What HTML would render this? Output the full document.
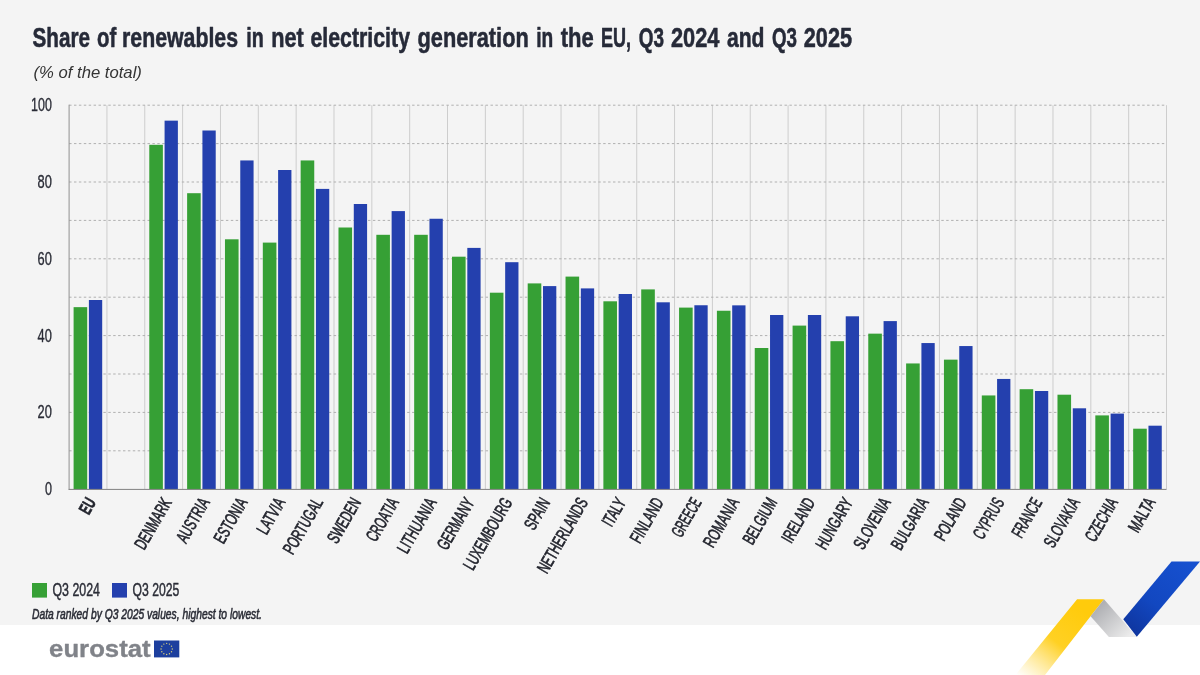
<!DOCTYPE html><html><head><meta charset="utf-8"><title>Share of renewables</title>
<style>html,body{margin:0;padding:0;background:#fff}body{width:1200px;height:675px;overflow:hidden;font-family:"Liberation Sans",sans-serif}svg{display:block;will-change:transform}text{font-family:"Liberation Sans",sans-serif;vector-effect:non-scaling-stroke;stroke-linejoin:round}</style></head><body>
<svg width="1200" height="675" viewBox="0 0 1200 675">
<defs>
<linearGradient id="gy" gradientUnits="userSpaceOnUse" x1="1085" y1="612" x2="1028" y2="684"><stop offset="0" stop-color="#ffcb0c"/><stop offset="0.45" stop-color="#ffcf1c" stop-opacity="0.97"/><stop offset="1" stop-color="#ffd84a" stop-opacity="0"/></linearGradient>
<linearGradient id="gg" gradientUnits="userSpaceOnUse" x1="1093" y1="606" x2="1125" y2="640"><stop offset="0" stop-color="#a9aaae"/><stop offset="1" stop-color="#ececec"/></linearGradient>
<linearGradient id="gb" gradientUnits="userSpaceOnUse" x1="1185" y1="561" x2="1130" y2="630"><stop offset="0" stop-color="#1650cf"/><stop offset="0.6" stop-color="#1247c0"/><stop offset="1" stop-color="#0f36a0"/></linearGradient>
</defs>
<rect x="0" y="0" width="1200" height="625" fill="#f4f4f4"/>
<rect x="0" y="625" width="1200" height="50" fill="#ffffff"/>
<text transform="translate(32.50 47.00) scale(0.7610 1)" font-size="27.2" fill="#262a38" font-weight="700" stroke="#262a38" stroke-width="0.5">Share</text>
<text transform="translate(97.00 47.00) scale(0.7498 1)" font-size="27.2" fill="#262a38" font-weight="700" stroke="#262a38" stroke-width="0.5">of</text>
<text transform="translate(122.00 47.00) scale(0.7832 1)" font-size="27.2" fill="#262a38" font-weight="700" stroke="#262a38" stroke-width="0.5">renewables</text>
<text transform="translate(246.25 47.00) scale(0.7240 1)" font-size="27.2" fill="#262a38" font-weight="700" stroke="#262a38" stroke-width="0.5">in</text>
<text transform="translate(271.25 47.00) scale(0.7969 1)" font-size="27.2" fill="#262a38" font-weight="700" stroke="#262a38" stroke-width="0.5">net</text>
<text transform="translate(310.50 47.00) scale(0.7838 1)" font-size="27.2" fill="#262a38" font-weight="700" stroke="#262a38" stroke-width="0.5">electricity</text>
<text transform="translate(417.50 47.00) scale(0.8004 1)" font-size="27.2" fill="#262a38" font-weight="700" stroke="#262a38" stroke-width="0.5">generation</text>
<text transform="translate(536.25 47.00) scale(0.7033 1)" font-size="27.2" fill="#262a38" font-weight="700" stroke="#262a38" stroke-width="0.5">in</text>
<text transform="translate(560.75 47.00) scale(0.8092 1)" font-size="27.2" fill="#262a38" font-weight="700" stroke="#262a38" stroke-width="0.5">the</text>
<text transform="translate(601.00 47.00) scale(0.6618 1)" font-size="27.2" fill="#262a38" font-weight="700" stroke="#262a38" stroke-width="0.5">EU,</text>
<text transform="translate(638.75 47.00) scale(0.6960 1)" font-size="27.2" fill="#262a38" font-weight="700" stroke="#262a38" stroke-width="0.5">Q3</text>
<text transform="translate(671.00 47.00) scale(0.8019 1)" font-size="27.2" fill="#262a38" font-weight="700" stroke="#262a38" stroke-width="0.5">2024</text>
<text transform="translate(727.00 47.00) scale(0.7757 1)" font-size="27.2" fill="#262a38" font-weight="700" stroke="#262a38" stroke-width="0.5">and</text>
<text transform="translate(772.00 47.00) scale(0.6891 1)" font-size="27.2" fill="#262a38" font-weight="700" stroke="#262a38" stroke-width="0.5">Q3</text>
<text transform="translate(803.75 47.00) scale(0.7977 1)" font-size="27.2" fill="#262a38" font-weight="700" stroke="#262a38" stroke-width="0.5">2025</text>
<text transform="translate(33.50 77.60) scale(1.0428 1)" font-size="16" fill="#333" font-style="italic">(% of the total)</text>
<line x1="106.94" y1="105.2" x2="106.94" y2="489.2" stroke="#cdcdcd" stroke-width="1"/>
<line x1="144.78" y1="105.2" x2="144.78" y2="489.2" stroke="#cdcdcd" stroke-width="1"/>
<line x1="182.62" y1="105.2" x2="182.62" y2="489.2" stroke="#cdcdcd" stroke-width="1"/>
<line x1="220.47" y1="105.2" x2="220.47" y2="489.2" stroke="#cdcdcd" stroke-width="1"/>
<line x1="258.31" y1="105.2" x2="258.31" y2="489.2" stroke="#cdcdcd" stroke-width="1"/>
<line x1="296.15" y1="105.2" x2="296.15" y2="489.2" stroke="#cdcdcd" stroke-width="1"/>
<line x1="333.99" y1="105.2" x2="333.99" y2="489.2" stroke="#cdcdcd" stroke-width="1"/>
<line x1="371.83" y1="105.2" x2="371.83" y2="489.2" stroke="#cdcdcd" stroke-width="1"/>
<line x1="409.67" y1="105.2" x2="409.67" y2="489.2" stroke="#cdcdcd" stroke-width="1"/>
<line x1="447.51" y1="105.2" x2="447.51" y2="489.2" stroke="#cdcdcd" stroke-width="1"/>
<line x1="485.36" y1="105.2" x2="485.36" y2="489.2" stroke="#cdcdcd" stroke-width="1"/>
<line x1="523.20" y1="105.2" x2="523.20" y2="489.2" stroke="#cdcdcd" stroke-width="1"/>
<line x1="561.04" y1="105.2" x2="561.04" y2="489.2" stroke="#cdcdcd" stroke-width="1"/>
<line x1="598.88" y1="105.2" x2="598.88" y2="489.2" stroke="#cdcdcd" stroke-width="1"/>
<line x1="636.72" y1="105.2" x2="636.72" y2="489.2" stroke="#cdcdcd" stroke-width="1"/>
<line x1="674.56" y1="105.2" x2="674.56" y2="489.2" stroke="#cdcdcd" stroke-width="1"/>
<line x1="712.40" y1="105.2" x2="712.40" y2="489.2" stroke="#cdcdcd" stroke-width="1"/>
<line x1="750.24" y1="105.2" x2="750.24" y2="489.2" stroke="#cdcdcd" stroke-width="1"/>
<line x1="788.09" y1="105.2" x2="788.09" y2="489.2" stroke="#cdcdcd" stroke-width="1"/>
<line x1="825.93" y1="105.2" x2="825.93" y2="489.2" stroke="#cdcdcd" stroke-width="1"/>
<line x1="863.77" y1="105.2" x2="863.77" y2="489.2" stroke="#cdcdcd" stroke-width="1"/>
<line x1="901.61" y1="105.2" x2="901.61" y2="489.2" stroke="#cdcdcd" stroke-width="1"/>
<line x1="939.45" y1="105.2" x2="939.45" y2="489.2" stroke="#cdcdcd" stroke-width="1"/>
<line x1="977.29" y1="105.2" x2="977.29" y2="489.2" stroke="#cdcdcd" stroke-width="1"/>
<line x1="1015.13" y1="105.2" x2="1015.13" y2="489.2" stroke="#cdcdcd" stroke-width="1"/>
<line x1="1052.98" y1="105.2" x2="1052.98" y2="489.2" stroke="#cdcdcd" stroke-width="1"/>
<line x1="1090.82" y1="105.2" x2="1090.82" y2="489.2" stroke="#cdcdcd" stroke-width="1"/>
<line x1="1128.66" y1="105.2" x2="1128.66" y2="489.2" stroke="#cdcdcd" stroke-width="1"/>
<line x1="1166.50" y1="105.2" x2="1166.50" y2="489.2" stroke="#cdcdcd" stroke-width="1"/>
<line x1="69.1" y1="450.80" x2="1166.5" y2="450.80" stroke="#b0b0b0" stroke-width="1" stroke-dasharray="2.45 2.45"/>
<line x1="69.1" y1="412.40" x2="1166.5" y2="412.40" stroke="#b0b0b0" stroke-width="1" stroke-dasharray="2.45 2.45"/>
<line x1="69.1" y1="374.00" x2="1166.5" y2="374.00" stroke="#b0b0b0" stroke-width="1" stroke-dasharray="2.45 2.45"/>
<line x1="69.1" y1="335.60" x2="1166.5" y2="335.60" stroke="#b0b0b0" stroke-width="1" stroke-dasharray="2.45 2.45"/>
<line x1="69.1" y1="297.20" x2="1166.5" y2="297.20" stroke="#b0b0b0" stroke-width="1" stroke-dasharray="2.45 2.45"/>
<line x1="69.1" y1="258.80" x2="1166.5" y2="258.80" stroke="#b0b0b0" stroke-width="1" stroke-dasharray="2.45 2.45"/>
<line x1="69.1" y1="220.40" x2="1166.5" y2="220.40" stroke="#b0b0b0" stroke-width="1" stroke-dasharray="2.45 2.45"/>
<line x1="69.1" y1="182.00" x2="1166.5" y2="182.00" stroke="#b0b0b0" stroke-width="1" stroke-dasharray="2.45 2.45"/>
<line x1="69.1" y1="143.60" x2="1166.5" y2="143.60" stroke="#b0b0b0" stroke-width="1" stroke-dasharray="2.45 2.45"/>
<line x1="69.1" y1="105.20" x2="1166.5" y2="105.20" stroke="#b0b0b0" stroke-width="1" stroke-dasharray="2.45 2.45"/>
<rect x="73.60" y="307.15" width="13.6" height="182.05" fill="#36a035"/>
<rect x="88.90" y="300.00" width="13.3" height="189.20" fill="#2440ae"/>
<rect x="149.28" y="144.80" width="13.6" height="344.40" fill="#36a035"/>
<rect x="164.58" y="120.65" width="13.3" height="368.55" fill="#2440ae"/>
<rect x="187.12" y="193.20" width="13.6" height="296.00" fill="#36a035"/>
<rect x="202.42" y="130.50" width="13.3" height="358.70" fill="#2440ae"/>
<rect x="224.97" y="239.30" width="13.6" height="249.90" fill="#36a035"/>
<rect x="240.27" y="160.45" width="13.3" height="328.75" fill="#2440ae"/>
<rect x="262.81" y="242.60" width="13.6" height="246.60" fill="#36a035"/>
<rect x="278.11" y="170.00" width="13.3" height="319.20" fill="#2440ae"/>
<rect x="300.65" y="160.45" width="13.6" height="328.75" fill="#36a035"/>
<rect x="315.95" y="188.90" width="13.3" height="300.30" fill="#2440ae"/>
<rect x="338.49" y="227.50" width="13.6" height="261.70" fill="#36a035"/>
<rect x="353.79" y="204.00" width="13.3" height="285.20" fill="#2440ae"/>
<rect x="376.33" y="234.80" width="13.6" height="254.40" fill="#36a035"/>
<rect x="391.63" y="211.10" width="13.3" height="278.10" fill="#2440ae"/>
<rect x="414.17" y="234.80" width="13.6" height="254.40" fill="#36a035"/>
<rect x="429.47" y="218.75" width="13.3" height="270.45" fill="#2440ae"/>
<rect x="452.01" y="256.70" width="13.6" height="232.50" fill="#36a035"/>
<rect x="467.31" y="247.90" width="13.3" height="241.30" fill="#2440ae"/>
<rect x="489.86" y="292.70" width="13.6" height="196.50" fill="#36a035"/>
<rect x="505.16" y="262.20" width="13.3" height="227.00" fill="#2440ae"/>
<rect x="527.70" y="283.40" width="13.6" height="205.80" fill="#36a035"/>
<rect x="543.00" y="286.10" width="13.3" height="203.10" fill="#2440ae"/>
<rect x="565.54" y="276.60" width="13.6" height="212.60" fill="#36a035"/>
<rect x="580.84" y="288.40" width="13.3" height="200.80" fill="#2440ae"/>
<rect x="603.38" y="301.30" width="13.6" height="187.90" fill="#36a035"/>
<rect x="618.68" y="294.00" width="13.3" height="195.20" fill="#2440ae"/>
<rect x="641.22" y="289.40" width="13.6" height="199.80" fill="#36a035"/>
<rect x="656.52" y="302.30" width="13.3" height="186.90" fill="#2440ae"/>
<rect x="679.06" y="307.60" width="13.6" height="181.60" fill="#36a035"/>
<rect x="694.36" y="305.25" width="13.3" height="183.95" fill="#2440ae"/>
<rect x="716.90" y="310.75" width="13.6" height="178.45" fill="#36a035"/>
<rect x="732.20" y="305.35" width="13.3" height="183.85" fill="#2440ae"/>
<rect x="754.74" y="348.00" width="13.6" height="141.20" fill="#36a035"/>
<rect x="770.04" y="315.00" width="13.3" height="174.20" fill="#2440ae"/>
<rect x="792.59" y="325.60" width="13.6" height="163.60" fill="#36a035"/>
<rect x="807.89" y="315.00" width="13.3" height="174.20" fill="#2440ae"/>
<rect x="830.43" y="341.20" width="13.6" height="148.00" fill="#36a035"/>
<rect x="845.73" y="316.30" width="13.3" height="172.90" fill="#2440ae"/>
<rect x="868.27" y="333.65" width="13.6" height="155.55" fill="#36a035"/>
<rect x="883.57" y="321.10" width="13.3" height="168.10" fill="#2440ae"/>
<rect x="906.11" y="363.45" width="13.6" height="125.75" fill="#36a035"/>
<rect x="921.41" y="343.05" width="13.3" height="146.15" fill="#2440ae"/>
<rect x="943.95" y="359.65" width="13.6" height="129.55" fill="#36a035"/>
<rect x="959.25" y="346.05" width="13.3" height="143.15" fill="#2440ae"/>
<rect x="981.79" y="395.45" width="13.6" height="93.75" fill="#36a035"/>
<rect x="997.09" y="378.95" width="13.3" height="110.25" fill="#2440ae"/>
<rect x="1019.63" y="389.20" width="13.6" height="100.00" fill="#36a035"/>
<rect x="1034.93" y="391.00" width="13.3" height="98.20" fill="#2440ae"/>
<rect x="1057.48" y="394.70" width="13.6" height="94.50" fill="#36a035"/>
<rect x="1072.78" y="408.30" width="13.3" height="80.90" fill="#2440ae"/>
<rect x="1095.32" y="415.40" width="13.6" height="73.80" fill="#36a035"/>
<rect x="1110.62" y="413.60" width="13.3" height="75.60" fill="#2440ae"/>
<rect x="1133.16" y="428.70" width="13.6" height="60.50" fill="#36a035"/>
<rect x="1148.46" y="425.70" width="13.3" height="63.50" fill="#2440ae"/>
<line x1="69.1" y1="104.7" x2="69.1" y2="489.7" stroke="#909090" stroke-width="1"/>
<line x1="68.6" y1="489.4" x2="1166.5" y2="489.4" stroke="#808080" stroke-width="1"/>
<text transform="translate(44.90 495.15) scale(0.6914 1)" font-size="18.2" fill="#2a2c36" stroke="#2a2c36" stroke-width="0.3">0</text>
<text transform="translate(37.60 418.35) scale(0.7067 1)" font-size="18.2" fill="#2a2c36" stroke="#2a2c36" stroke-width="0.3">20</text>
<text transform="translate(37.60 341.55) scale(0.7067 1)" font-size="18.2" fill="#2a2c36" stroke="#2a2c36" stroke-width="0.3">40</text>
<text transform="translate(37.60 264.75) scale(0.7067 1)" font-size="18.2" fill="#2a2c36" stroke="#2a2c36" stroke-width="0.3">60</text>
<text transform="translate(37.60 187.95) scale(0.7067 1)" font-size="18.2" fill="#2a2c36" stroke="#2a2c36" stroke-width="0.3">80</text>
<text transform="translate(31.10 111.15) scale(0.6851 1)" font-size="18.2" fill="#2a2c36" stroke="#2a2c36" stroke-width="0.3">100</text>
<text transform="translate(96.62 502.20) rotate(-60) scale(0.6258 1)" font-size="17.9" fill="#23252e" font-weight="700" stroke="#23252e" stroke-width="0.5" text-anchor="end">EU</text>
<text transform="translate(172.30 502.20) rotate(-60) scale(0.6259 1)" font-size="17.9" fill="#23252e" stroke="#23252e" stroke-width="0.55" text-anchor="end">DENMARK</text>
<text transform="translate(210.14 502.20) rotate(-60) scale(0.6260 1)" font-size="17.9" fill="#23252e" stroke="#23252e" stroke-width="0.55" text-anchor="end">AUSTRIA</text>
<text transform="translate(247.99 502.20) rotate(-60) scale(0.6286 1)" font-size="17.9" fill="#23252e" stroke="#23252e" stroke-width="0.55" text-anchor="end">ESTONIA</text>
<text transform="translate(285.83 502.20) rotate(-60) scale(0.6398 1)" font-size="17.9" fill="#23252e" stroke="#23252e" stroke-width="0.55" text-anchor="end">LATVIA</text>
<text transform="translate(323.67 502.20) rotate(-60) scale(0.6281 1)" font-size="17.9" fill="#23252e" stroke="#23252e" stroke-width="0.55" text-anchor="end">PORTUGAL</text>
<text transform="translate(361.51 502.20) rotate(-60) scale(0.6260 1)" font-size="17.9" fill="#23252e" stroke="#23252e" stroke-width="0.55" text-anchor="end">SWEDEN</text>
<text transform="translate(399.35 502.20) rotate(-60) scale(0.6008 1)" font-size="17.9" fill="#23252e" stroke="#23252e" stroke-width="0.55" text-anchor="end">CROATIA</text>
<text transform="translate(437.19 502.20) rotate(-60) scale(0.6484 1)" font-size="17.9" fill="#23252e" stroke="#23252e" stroke-width="0.55" text-anchor="end">LITHUANIA</text>
<text transform="translate(475.03 502.20) rotate(-60) scale(0.6259 1)" font-size="17.9" fill="#23252e" stroke="#23252e" stroke-width="0.55" text-anchor="end">GERMANY</text>
<text transform="translate(512.88 502.20) rotate(-60) scale(0.6260 1)" font-size="17.9" fill="#23252e" stroke="#23252e" stroke-width="0.55" text-anchor="end">LUXEMBOURG</text>
<text transform="translate(550.72 502.20) rotate(-60) scale(0.6417 1)" font-size="17.9" fill="#23252e" stroke="#23252e" stroke-width="0.55" text-anchor="end">SPAIN</text>
<text transform="translate(588.56 502.20) rotate(-60) scale(0.6259 1)" font-size="17.9" fill="#23252e" stroke="#23252e" stroke-width="0.55" text-anchor="end">NETHERLANDS</text>
<text transform="translate(626.40 502.20) rotate(-60) scale(0.6295 1)" font-size="17.9" fill="#23252e" stroke="#23252e" stroke-width="0.55" text-anchor="end">ITALY</text>
<text transform="translate(664.24 502.20) rotate(-60) scale(0.6390 1)" font-size="17.9" fill="#23252e" stroke="#23252e" stroke-width="0.55" text-anchor="end">FINLAND</text>
<text transform="translate(702.08 502.20) rotate(-60) scale(0.5532 1)" font-size="17.9" fill="#23252e" stroke="#23252e" stroke-width="0.55" text-anchor="end">GREECE</text>
<text transform="translate(739.92 502.20) rotate(-60) scale(0.6440 1)" font-size="17.9" fill="#23252e" stroke="#23252e" stroke-width="0.55" text-anchor="end">ROMANIA</text>
<text transform="translate(777.77 502.20) rotate(-60) scale(0.6260 1)" font-size="17.9" fill="#23252e" stroke="#23252e" stroke-width="0.55" text-anchor="end">BELGIUM</text>
<text transform="translate(815.61 502.20) rotate(-60) scale(0.6260 1)" font-size="17.9" fill="#23252e" stroke="#23252e" stroke-width="0.55" text-anchor="end">IRELAND</text>
<text transform="translate(853.45 502.20) rotate(-60) scale(0.6282 1)" font-size="17.9" fill="#23252e" stroke="#23252e" stroke-width="0.55" text-anchor="end">HUNGARY</text>
<text transform="translate(891.29 502.20) rotate(-60) scale(0.6259 1)" font-size="17.9" fill="#23252e" stroke="#23252e" stroke-width="0.55" text-anchor="end">SLOVENIA</text>
<text transform="translate(929.13 502.20) rotate(-60) scale(0.6259 1)" font-size="17.9" fill="#23252e" stroke="#23252e" stroke-width="0.55" text-anchor="end">BULGARIA</text>
<text transform="translate(966.97 502.20) rotate(-60) scale(0.6259 1)" font-size="17.9" fill="#23252e" stroke="#23252e" stroke-width="0.55" text-anchor="end">POLAND</text>
<text transform="translate(1004.81 502.20) rotate(-60) scale(0.5924 1)" font-size="17.9" fill="#23252e" stroke="#23252e" stroke-width="0.55" text-anchor="end">CYPRUS</text>
<text transform="translate(1042.66 502.20) rotate(-60) scale(0.5783 1)" font-size="17.9" fill="#23252e" stroke="#23252e" stroke-width="0.55" text-anchor="end">FRANCE</text>
<text transform="translate(1080.50 502.20) rotate(-60) scale(0.6183 1)" font-size="17.9" fill="#23252e" stroke="#23252e" stroke-width="0.55" text-anchor="end">SLOVAKIA</text>
<text transform="translate(1118.34 502.20) rotate(-60) scale(0.6005 1)" font-size="17.9" fill="#23252e" stroke="#23252e" stroke-width="0.55" text-anchor="end">CZECHIA</text>
<text transform="translate(1156.18 502.20) rotate(-60) scale(0.6376 1)" font-size="17.9" fill="#23252e" stroke="#23252e" stroke-width="0.55" text-anchor="end">MALTA</text>
<rect x="32" y="583" width="15" height="14.6" fill="#36a035"/>
<text transform="translate(52.50 595.80) scale(0.6878 1)" font-size="18" fill="#2a2c36" stroke="#2a2c36" stroke-width="0.4">Q3 2024</text>
<rect x="112" y="583" width="15" height="14.6" fill="#2440ae"/>
<text transform="translate(132.50 595.80) scale(0.6776 1)" font-size="18" fill="#2a2c36" stroke="#2a2c36" stroke-width="0.4">Q3 2025</text>
<text transform="translate(32.00 619.00) scale(0.7053 1)" font-size="14.6" fill="#2a2c36" font-style="italic" stroke="#2a2c36" stroke-width="0.5">Data ranked by Q3 2025 values, highest to lowest.</text>
<text transform="translate(49.10 657.30) scale(1.0635 1)" font-size="24.2" fill="#808389" font-weight="700" stroke="#808389" stroke-width="0.35">eurostat</text>
<rect x="154" y="640.5" width="25.3" height="16.9" fill="#1d3f9e"/>
<circle cx="166.65" cy="643.35" r="0.7" fill="#d9cf7a"/>
<circle cx="169.45" cy="644.10" r="0.7" fill="#d9cf7a"/>
<circle cx="171.50" cy="646.15" r="0.7" fill="#d9cf7a"/>
<circle cx="172.25" cy="648.95" r="0.7" fill="#d9cf7a"/>
<circle cx="171.50" cy="651.75" r="0.7" fill="#d9cf7a"/>
<circle cx="169.45" cy="653.80" r="0.7" fill="#d9cf7a"/>
<circle cx="166.65" cy="654.55" r="0.7" fill="#d9cf7a"/>
<circle cx="163.85" cy="653.80" r="0.7" fill="#d9cf7a"/>
<circle cx="161.80" cy="651.75" r="0.7" fill="#d9cf7a"/>
<circle cx="161.05" cy="648.95" r="0.7" fill="#d9cf7a"/>
<circle cx="161.80" cy="646.15" r="0.7" fill="#d9cf7a"/>
<circle cx="163.85" cy="644.10" r="0.7" fill="#d9cf7a"/>
<polygon points="1077.1,599.3 1104,599.3 1090.6,616.3 1045,675 1015.4,675" fill="url(#gy)"/>
<polygon points="1104,599.3 1090.6,616.3 1108.9,637.1 1136.8,637.1" fill="url(#gg)"/>
<polygon points="1171.5,561.4 1200,561.4 1136.8,636.8 1123.3,619.2" fill="url(#gb)"/>
</svg></body></html>
